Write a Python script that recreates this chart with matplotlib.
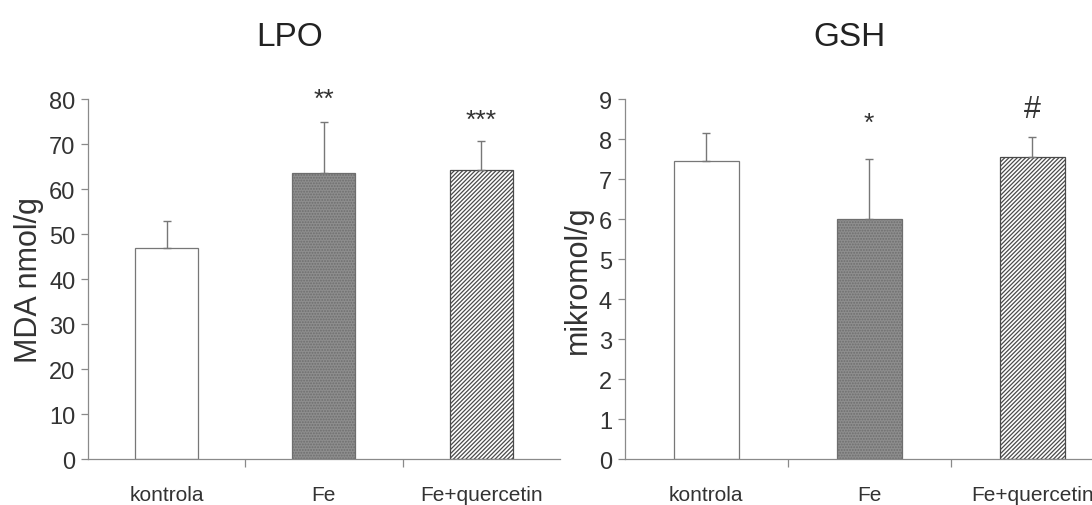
import numpy as np
import matplotlib
matplotlib.use("Agg")
import matplotlib.pyplot as plt

plt.rcParams['font.family'] = ['Liberation Sans', 'DejaVu Sans']
plt.rcParams['hatch.linewidth'] = 0.9

groups = ["kontrola", "Fe", "Fe+quercetin"]

# LPO (MDA nmol/g)
lpo_mean = [47.0, 63.5, 64.2]
lpo_sd = [6.0, 11.5, 6.6]
lpo_marks = ["", "**", "***"]
lpo_mark_y = [0, 80.0, 75.5]

# GSH (mikromol/g)
gsh_mean = [7.45, 6.0, 7.55]
gsh_sd = [0.7, 1.5, 0.5]
gsh_marks = ["", "*", "#"]
gsh_mark_y = [0, 8.4, 8.75]

axis_grey = "#8a8a8a"
text_grey = "#333333"


def draw_panel(ax, means, sds, marks, mark_y, ymax, yticks, ylabel, mark_sizes):
    x = np.arange(len(groups))
    styles = [
        dict(facecolor="white", edgecolor="#777777", hatch=None),
        dict(facecolor="#8e8e8e", edgecolor="#6e6e6e", hatch="......"),
        dict(facecolor="white", edgecolor="#4a4a4a", hatch="////////"),
    ]
    for i in range(len(groups)):
        ax.bar(x[i], means[i], width=0.4, linewidth=0.9, zorder=2, **styles[i])
    ax.errorbar(x, means, yerr=[np.zeros(len(sds)), sds], fmt="none",
                ecolor="#777777", elinewidth=1.0, capsize=3, capthick=1.0, zorder=3)
    for i, m in enumerate(marks):
        if m:
            ax.text(x[i], mark_y[i], m, ha="center", va="center",
                    fontsize=mark_sizes[i], color=text_grey)

    ax.set_xlim(-0.5, len(groups) - 0.5)
    ax.set_ylim(0, ymax)
    ax.set_yticks(yticks)
    ax.set_xticks(x)
    ax.set_xticklabels(groups, fontsize=15, color=text_grey)
    ax.set_xticks(x[:-1] + 0.5, minor=True)
    ax.tick_params(axis="x", which="major", length=0, pad=19)
    ax.tick_params(axis="x", which="minor", length=6, color=axis_grey, width=0.9)
    ax.tick_params(axis="y", length=5, color=axis_grey, width=0.9,
                   labelsize=17, labelcolor=text_grey, pad=4)
    for side in ["top", "right"]:
        ax.spines[side].set_visible(False)
    for side in ["left", "bottom"]:
        ax.spines[side].set_color(axis_grey)
        ax.spines[side].set_linewidth(0.9)
    ax.set_ylabel(ylabel, fontsize=22, color=text_grey, labelpad=4)


fig = plt.figure(figsize=(10.92, 5.06), dpi=100)

ax1 = fig.add_axes([0.0806, 0.0909, 0.432, 0.711])
draw_panel(ax1, lpo_mean, lpo_sd, lpo_marks, lpo_mark_y, 80,
           np.arange(0, 81, 10), "MDA nmol/g", [0, 19, 19])

ax2 = fig.add_axes([0.572, 0.0909, 0.448, 0.711])
draw_panel(ax2, gsh_mean, gsh_sd, gsh_marks, gsh_mark_y, 9,
           np.arange(0, 10, 1), "mikromol/g", [0, 19, 22])

fig.text(0.265, 0.925, "LPO", fontsize=24, ha="center", va="center", color="#222222")
fig.text(0.778, 0.925, "GSH", fontsize=24, ha="center", va="center", color="#222222")

fig.savefig("out.png", dpi=100, facecolor="white")
